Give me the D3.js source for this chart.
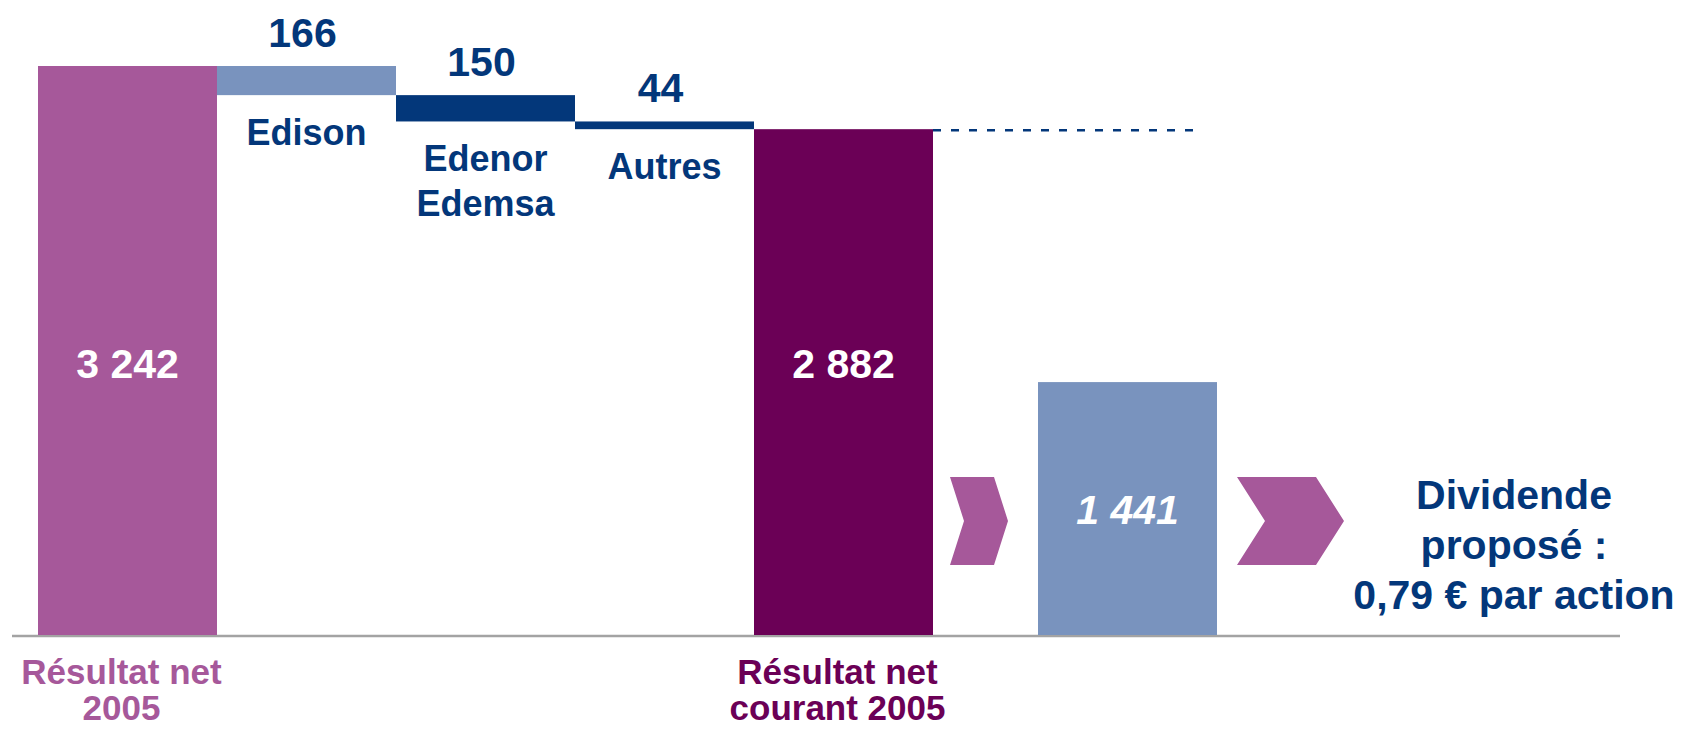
<!DOCTYPE html>
<html>
<head>
<meta charset="utf-8">
<script src="https://cdn.jsdelivr.net/npm/d3@7"></script>
<style>
  body { margin: 0; background: #ffffff; }
  svg text { font-family: "Liberation Sans", Arial, sans-serif; font-weight: bold; }
</style>
</head>
<body>
<div id="chart"></div>
<script>
// 1: DATA
const categories = ["Résultat net|2005", "Edison", "Edenor|Edemsa", "Autres", "Résultat net|courant 2005"];
const kinds = ["total", "delta", "delta", "delta", "total"];
const values = [3242, -166, -150, -44, 2882];
const payoutValue = 1441;
const dividendLines = ["Dividende", "proposé :", "0,79 € par action"];

// 2: STYLE / LAYOUT
const W = 1686, H = 729;
const navy = "#03377a";
const barColors = ["#a6589a", "#7993be", navy, navy, "#6b0056"];
const payoutColor = "#7993be";
const chevronColor = "#a6589a";
const baseY = 635;
const topY = 66;

// French number format: "3 242"
const fr = d3.formatLocale({ decimal: ",", thousands: " ", grouping: [3], currency: ["", " €"] });
const fmt = fr.format(",");

const svg = d3.select("#chart")
    .append("svg")
    .attr("width", W)
    .attr("height", H);

// 3: SCALES
const x = d3.scaleBand()
    .domain(categories)
    .range([38, 933])
    .padding(0);

const y = d3.scaleLinear()
    .domain([0, values[0]])
    .range([baseY, topY]);

// 4: WATERFALL STEPS
let running = 0;
const steps = categories.map((c, i) => {
    let lo, hi;
    if (kinds[i] === "total") {
        lo = 0; hi = values[i]; running = values[i];
    } else {
        hi = running; lo = running + values[i]; running = lo;
    }
    return { cat: c, kind: kinds[i], value: values[i], lo, hi, color: barColors[i] };
});

// baseline
svg.append("line")
    .attr("x1", 12).attr("x2", 1620)
    .attr("y1", y(0) + 1).attr("y2", y(0) + 1)
    .attr("stroke", "#a3a3a3")
    .attr("stroke-width", 2.5);

svg.selectAll(".step")
    .data(steps)
    .enter()
    .append("rect")
    .attr("class", "step")
    .attr("x", d => x(d.cat))
    .attr("y", d => y(d.hi))
    .attr("width", x.bandwidth())
    .attr("height", d => y(d.lo) - y(d.hi))
    .attr("fill", d => d.color);

// dashed reference line from the end total
const last = steps[steps.length - 1];
svg.append("line")
    .attr("x1", x(last.cat) + x.bandwidth())
    .attr("x2", 1193)
    .attr("y1", y(last.hi) + 1)
    .attr("y2", y(last.hi) + 1)
    .attr("stroke", navy)
    .attr("stroke-width", 2.5)
    .attr("stroke-dasharray", "8,10");

// 5: LABELS
const deltas = steps.filter(d => d.kind === "delta");

// value above each delta bar
svg.selectAll(".delta-value")
    .data(deltas)
    .enter()
    .append("text")
    .attr("class", "delta-value")
    .attr("x", d => x(d.cat) + x.bandwidth() / 2 - 4)
    .attr("y", d => y(d.hi) - 19)
    .attr("text-anchor", "middle")
    .attr("font-size", 41)
    .attr("fill", navy)
    .text(d => fmt(Math.abs(d.value)));

// category name below each delta bar
deltas.forEach(d => {
    const t = svg.append("text")
        .attr("text-anchor", "middle")
        .attr("font-size", 36)
        .attr("fill", navy);
    d.cat.split("|").forEach((line, j) => {
        t.append("tspan")
            .attr("x", x(d.cat) + x.bandwidth() / 2)
            .attr("y", y(d.lo) + 50 + j * 45)
            .text(line);
    });
});

const totals = steps.filter(d => d.kind === "total");

// value inside the total bars
svg.selectAll(".total-value")
    .data(totals)
    .enter()
    .append("text")
    .attr("class", "total-value")
    .attr("x", d => x(d.cat) + x.bandwidth() / 2)
    .attr("y", 378)
    .attr("text-anchor", "middle")
    .attr("font-size", 41)
    .attr("fill", "#ffffff")
    .text(d => fmt(d.value));

// names under the axis for the totals
totals.forEach(d => {
    const t = svg.append("text")
        .attr("text-anchor", "middle")
        .attr("font-size", 35)
        .attr("fill", d.color);
    d.cat.split("|").forEach((line, j) => {
        t.append("tspan")
            .attr("x", x(d.cat) + x.bandwidth() / 2 - 6)
            .attr("y", 684 + j * 36)
            .text(line);
    });
});

// 6: DIVIDEND PART
const payoutX = 1038, payoutW = 179;

// chevron arrows
function chevron(x0, w, depth) {
    const t = 477, b = 565, m = (t + b) / 2;
    return [[x0, t], [x0 + w - depth, t], [x0 + w, m], [x0 + w - depth, b], [x0, b], [x0 + depth, m]];
}
[[950, 58, 14], [1237, 107, 28]].forEach(c => {
    svg.append("polygon")
        .attr("points", chevron(c[0], c[1], c[2]).map(p => p.join(",")).join(" "))
        .attr("fill", chevronColor);
});

svg.append("rect")
    .attr("x", payoutX)
    .attr("y", y(payoutValue))
    .attr("width", payoutW)
    .attr("height", y(0) - y(payoutValue))
    .attr("fill", payoutColor);

svg.append("text")
    .attr("x", payoutX + payoutW / 2)
    .attr("y", (y(payoutValue) + y(0)) / 2 + 15)
    .attr("text-anchor", "middle")
    .attr("font-size", 41)
    .attr("font-style", "italic")
    .attr("fill", "#ffffff")
    .text(fmt(payoutValue));

const divText = svg.append("text")
    .attr("text-anchor", "middle")
    .attr("font-size", 41)
    .attr("fill", navy);
dividendLines.forEach((line, j) => {
    divText.append("tspan")
        .attr("x", 1514)
        .attr("y", 509 + j * 50)
        .text(line);
});
</script>
</body>
</html>
